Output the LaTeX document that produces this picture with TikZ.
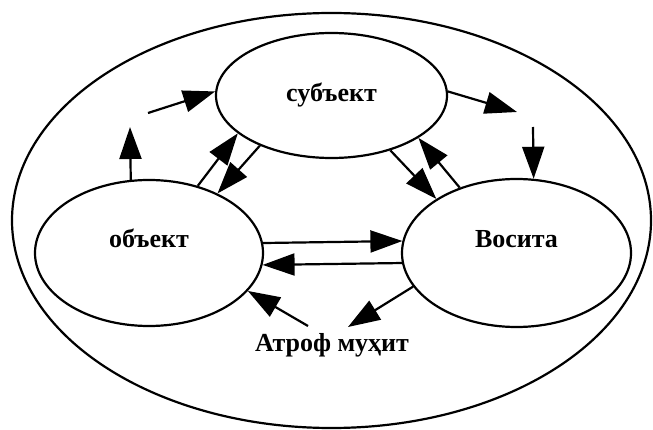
\documentclass[tikz,border=0pt]{standalone}
\usepackage{fontspec}
\setmainfont{Liberation Serif}
\usetikzlibrary{arrows.meta,shapes.geometric}
\begin{document}
\begin{tikzpicture}[x=1pt,y=-1pt,
  oval/.style={draw,ellipse,line width=2.2pt,inner sep=0pt},
  lbl/.style={font=\fontsize{26}{30}\selectfont\bfseries},
  arr/.style={line width=2.2pt,-{Triangle[length=32pt,width=22pt]}}]
\useasboundingbox (0,0) rectangle (653,430);
\node[oval,minimum width=639pt,minimum height=415pt] (outer) at (331.5,220.5) {};
\node[oval,lbl,minimum width=231pt,minimum height=125pt] (subj) at (331.5,95.5) {субъект};
\node[oval,lbl,minimum width=228pt,minimum height=146pt,text height=10pt,text depth=20pt] (obj) at (149,253) {объект};
\node[oval,lbl,minimum width=229pt,minimum height=148pt,text height=10pt,text depth=20pt] (vos) at (516.5,253) {Восита};
\node[lbl,inner sep=0pt] (env) at (332,345) {Атроф муҳит};
\coordinate (c1) at (130,127);
\coordinate (c2) at (148,113);
\coordinate (c3) at (517,112);
\coordinate (c4) at (533,127);
\coordinate (c11) at (308,326);
\coordinate (c12) at (348,327);
\draw[arr] (obj.104.6) -- (c1);
\draw[arr] (c2) -- (subj.178);
\draw[arr] (subj.2.2) -- (c3);
\draw[arr] (c4) -- (vos.77.4);
\draw[arr] (obj.54.8) -- (subj.202.6);
\draw[arr] (subj.215) -- (obj.41);
\draw[arr] (subj.317.4) -- (vos.146.5);
\draw[arr] (vos.131.8) -- (subj.334.1);
\draw[arr] (obj.5.06) -- (vos.174.96);
\draw[arr] (vos.185.04) -- (obj.354.94);
\draw[arr] (c11) -- (obj.339.9);
\draw[arr] (vos.198) -- (c12);
\end{tikzpicture}
\end{document}
